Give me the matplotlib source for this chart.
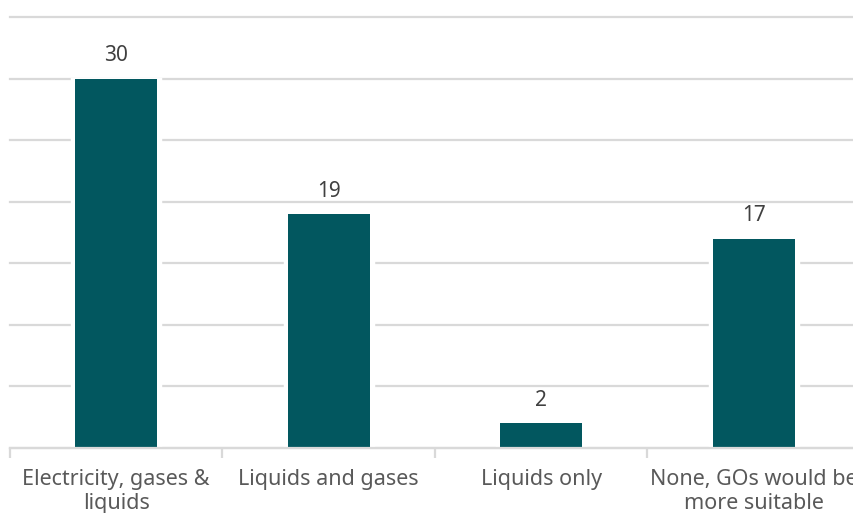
import matplotlib
matplotlib.use("Agg")
import matplotlib.pyplot as plt
import numpy as np

categories = ["Electricity, gases &\nliquids", "Liquids and gases", "Liquids only",
              "None, GOs would be\nmore suitable"]
values = [30, 19, 2, 17]

bar_color = "#02575F"
grid_color = "#D9D9D9"

plt.rcParams["font.family"] = ["Noto Sans", "DejaVu Sans"]

fig = plt.figure(figsize=(8.54, 5.13), dpi=100)
ax = fig.add_axes([10 / 854, 65 / 513, 850 / 854, 431 / 513])

x = np.arange(len(categories))
px = 1 / 212.5  # one pixel in category units
# white halo behind each bar breaks the gridlines around it
ax.bar(x, values, width=88 * px, color="white", edgecolor="white",
       linewidth=2.5, zorder=2)
ax.bar(x, values, width=82 * px, color=bar_color, zorder=3)

ax.set_xlim(-0.5, len(categories) - 0.5)
ax.set_ylim(0, 35)
ax.set_yticks(np.arange(0, 36, 5))
ax.yaxis.grid(True, color=grid_color, linewidth=1.6, zorder=0)
for gl in ax.yaxis.get_gridlines():
    gl.set_clip_on(False)
ax.tick_params(axis="y", left=False, labelleft=False)

for s in ["top", "right", "left"]:
    ax.spines[s].set_visible(False)
ax.spines["bottom"].set_color(grid_color)
ax.spines["bottom"].set_linewidth(1.6)
ax.spines["bottom"].set_zorder(4)

ax.set_xticks(x)
ax.set_xticklabels(categories, fontsize=15.5, color="#595959", linespacing=1.2)
ax.tick_params(axis="x", length=0, pad=15)
ax.set_xticks(np.arange(-0.5, len(categories), 1), minor=True)
ax.tick_params(axis="x", which="minor", length=7, width=1.6, color=grid_color)

for xi, v in zip(x, values):
    ax.annotate(f"{v}", xy=(xi, v), xytext=(0, 12.6), textcoords="offset points",
                ha="center", va="baseline", fontsize=15, color="#404040",
                zorder=4)

fig.savefig("out.png", dpi=100)
